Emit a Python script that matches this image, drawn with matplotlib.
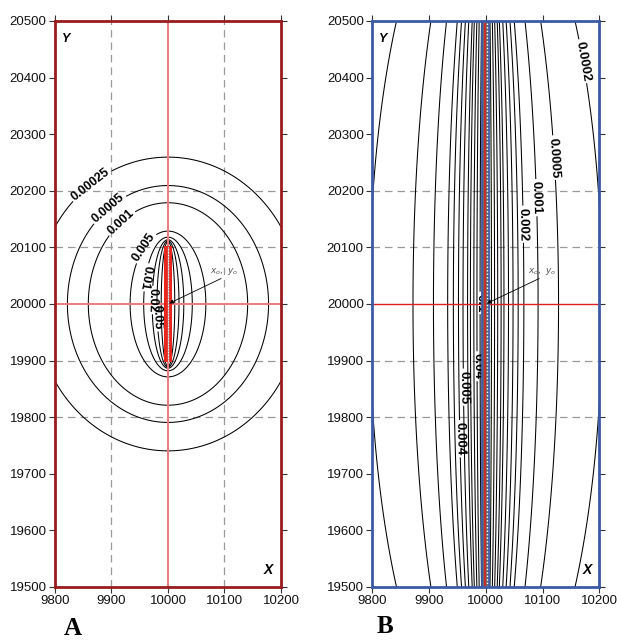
import numpy as np
import matplotlib.pyplot as plt
from matplotlib.patches import Rectangle

plt.rcParams['font.family'] = ['Liberation Sans', 'DejaVu Sans']

x0, y0 = 10000, 20000
x_ticks = [9800, 9900, 10000, 10100, 10200]
y_ticks = [19500, 19600, 19700, 19800, 19900, 20000, 20100, 20200, 20300, 20400, 20500]
grid_y = [19800, 19900, 20100, 20200]

# panel A (short source): contour values and their half width on the y0 line
a_names = ['0.1', '0.05', '0.02', '0.01', '0.005', '0.001', '0.0005', '0.00025']
a_halfwidth = [12, 19.5, 28, 43, 67, 141, 178, 235]
a_focus = 110
a_labels = ['0.05', '0.02', '0.01', '0.005', '0.001', '0.0005', '0.00025']
a_label_pos = [(9991, 19977), (9971, 20007), (9956, 20048), (9956, 20101),
               (9918, 20143), (9894, 20170), (9867, 20207)]

# panel B (long source)
b_names = ['0.1', '0.04', '0.03', '0.02', '0.01', '0.005', '0.004', '0.003',
           '0.002', '0.001', '0.0005', '0.0002']
b_halfwidth = [10, 15.5, 21, 27, 32, 40, 48, 57, 67, 92, 128, 205]
b_focus = 750
b_labels = ['0.1', '0.04', '0.005', '0.004', '0.002', '0.001', '0.0005', '0.0002']
b_label_pos = [(9990, 20002), (9984.5, 19890), (9960, 19853), (9954, 19762),
               (10066, 20141), (10093, 20188), (10128, 20259), (10170, 20429)]

xs = np.linspace(9790, 10210, 1681)
ys = np.linspace(19490, 20510, 1021)
X, Y = np.meshgrid(xs, ys)


def field(focus):
    r1 = np.hypot(X - x0, Y - (y0 - focus))
    r2 = np.hypot(X - x0, Y - (y0 + focus))
    return 0.5 * (r1 + r2)


def panel(rect, frame_col, names, halfwidth, focus, labels, label_pos, vgrid, lsize):
    ax = fig.add_axes(rect)
    ax.set_xlim(9800, 10200)
    ax.set_ylim(19500, 20500)
    ax.set_xticks(x_ticks)
    ax.set_yticks(y_ticks)
    ax.tick_params(direction='out', length=4.5, width=0.8, color='#333333',
                   labelsize=9.5, labelcolor='#111111', top=True, right=True, pad=1.5)
    for sp in ax.spines.values():
        sp.set_color(frame_col)
        sp.set_linewidth(2)
        sp.set_zorder(10)
    for gy in grid_y:
        ax.axhline(gy, color='#999999', lw=0.9, dashes=(6, 4), zorder=0)
    if vgrid:
        for gx in [9900, 10100]:
            ax.axvline(gx, color='#999999', lw=0.9, dashes=(6, 4), zorder=0)
    F = field(focus)
    lev = {n: np.sqrt(focus ** 2 + b ** 2) for n, b in zip(names, halfwidth)}
    plain = sorted(lev[n] for n in names if n not in labels)
    if plain:
        ax.contour(X, Y, F, levels=plain, colors='black', linewidths=0.75, zorder=2)
    cs = ax.contour(X, Y, F, levels=sorted(lev[n] for n in labels),
                    colors='black', linewidths=0.75, zorder=2)
    fmt = {lev[n]: n for n in labels}
    fmt = {l: fmt[min(fmt, key=lambda k: abs(k - l))] for l in cs.levels}
    with plt.rc_context({'font.weight': 'bold'}):
        txt = ax.clabel(cs, fmt=fmt, manual=label_pos,
                        inline=True, inline_spacing=2, fontsize=lsize)
    for t in txt:
        r = t.get_rotation() % 360
        if 60 < r < 120:
            t.set_rotation(r + 180)
    ax.text(0.03, 0.978, 'Y', transform=ax.transAxes, ha='left', va='top',
            fontsize=9, fontweight='bold', fontstyle='italic')
    ax.text(0.965, 0.018, 'X', transform=ax.transAxes, ha='right', va='bottom',
            fontsize=10, fontweight='bold', fontstyle='italic')
    ax.text(10074, 20057, r'$x_o,\ y_o$', fontsize=6.5, color='#555555',
            va='center', ha='left', zorder=6)
    ax.annotate('', xy=(x0 + 2, y0 + 1), xytext=(10094, 20045),
                arrowprops=dict(arrowstyle='-|>', lw=0.6, color='black',
                                mutation_scale=6, shrinkA=0, shrinkB=0),
                zorder=7)
    return ax


fig = plt.figure(figsize=(6.17, 6.42), dpi=100)

ax1 = panel([0.0891, 0.0857, 0.3663, 0.8816], '#9b1c1c', a_names, a_halfwidth,
            a_focus, a_labels, a_label_pos, True, 9)
ax1.axvline(x0, color='#f07a7a', lw=1.4, zorder=3)
ax1.axhline(y0, color='#f07a7a', lw=1.4, zorder=3)
ax1.add_patch(Rectangle((9993, 19897), 14, 206, facecolor='#e8271f',
                        edgecolor='none', zorder=4))
ax1.plot([x0, x0], [19900, 20100], color='#b0b0b0', lw=0.9, zorder=5)
ax1.plot([x0, x0], [19900, 20100], color='white', lw=0.8, ls=(0, (1, 1.5)), zorder=5)

ax2 = panel([0.603, 0.0857, 0.3686, 0.8816], '#3b5ba5', b_names, b_halfwidth,
            b_focus, b_labels, b_label_pos, False, 9.5)
ax2.axhline(y0, color='#e02020', lw=1.0, zorder=3)
ax2.add_patch(Rectangle((9994, 19400), 12, 1200, facecolor='#6a6a6a',
                        edgecolor='#3b5ba5', lw=1.3, zorder=4))
ax2.axvline(9998.5, color='#e02020', lw=1.2, zorder=5)
ax2.axvline(10002, color='white', lw=1.0, ls=(0, (1, 1.5)), zorder=5)

fig.text(0.103, 0.003, 'A', fontsize=18, fontweight='bold',
         family=['Liberation Serif', 'DejaVu Serif'], ha='left', va='bottom')
fig.text(0.611, 0.006, 'B', fontsize=18, fontweight='bold',
         family=['Liberation Serif', 'DejaVu Serif'], ha='left', va='bottom')

fig.savefig('out.png', dpi=100)
